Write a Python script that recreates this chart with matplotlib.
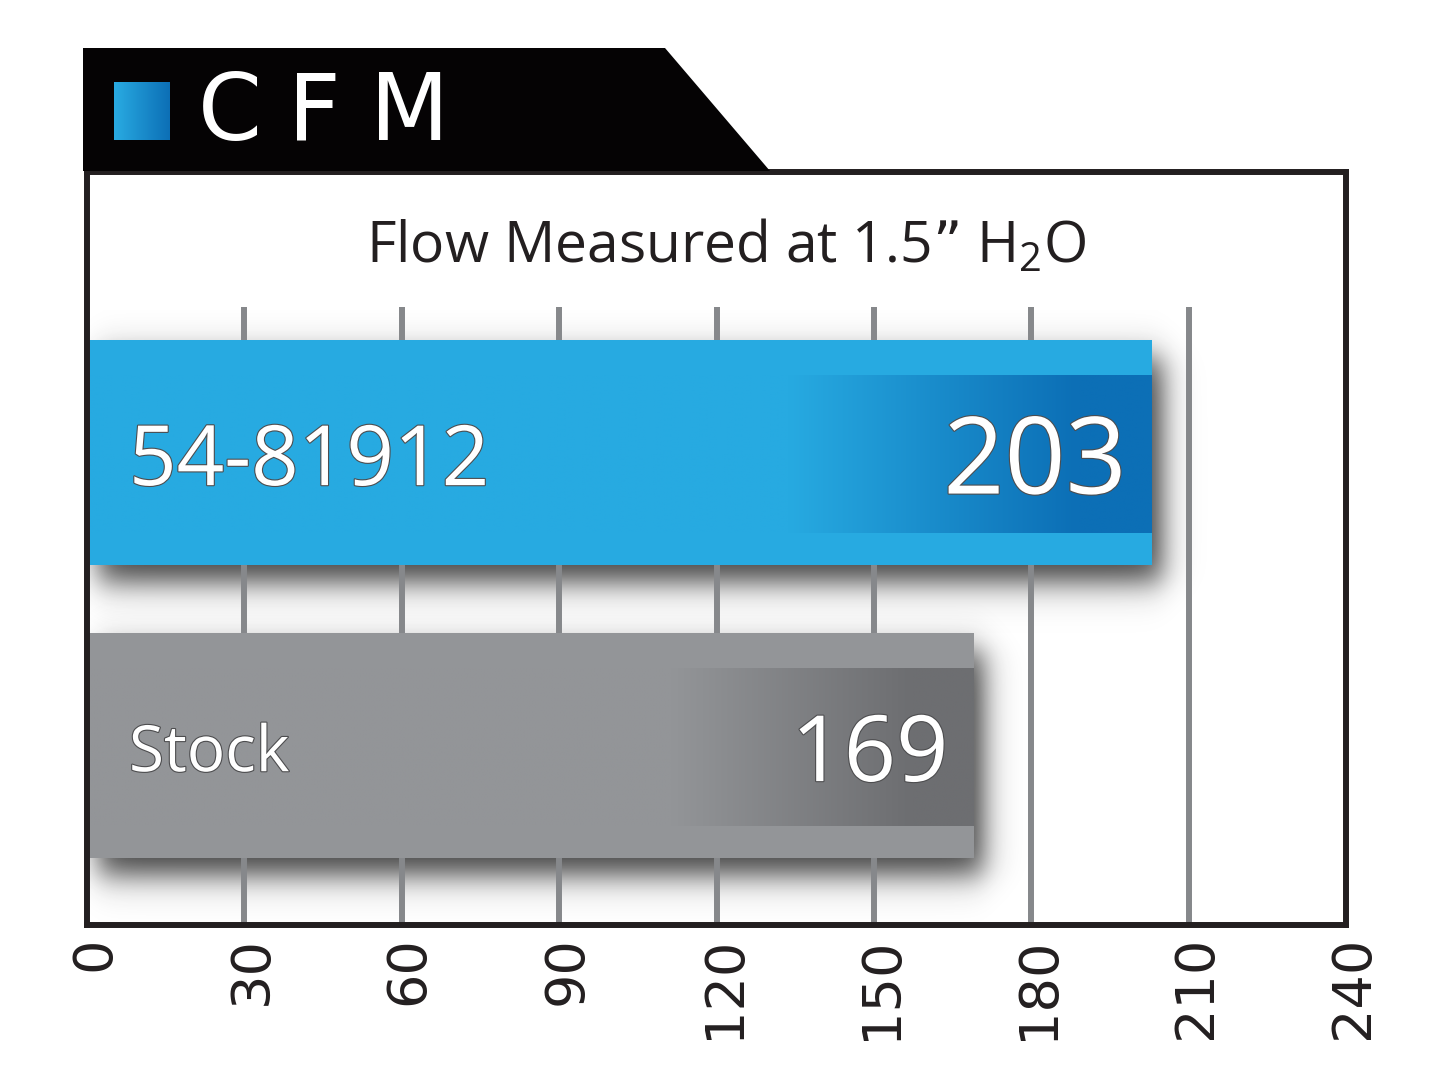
import numpy as np
import matplotlib
matplotlib.use('Agg')
import matplotlib.pyplot as plt
import matplotlib.patheffects as pe
import matplotlib.transforms as mtransforms
from matplotlib.patches import Polygon
from matplotlib.colors import to_rgb

# chart data
labels = ["54-81912", "Stock"]
values = [203, 169]
bar_colors = ["#27aae1", "#939598"]
band_colors = ["#0c6fb6", "#6d6e71"]
label_sizes = [60, 46]
value_sizes = [77, 66]
ticks = [0, 30, 60, 90, 120, 150, 180, 210, 240]
title = "Flow Measured at 1.5\u201d H$\\mathregular{_2}$O"
header = "CFM"

W, H = 1445, 1084
plt.rcParams['font.family'] = ['Open Sans', 'DejaVu Sans']

fig = plt.figure(figsize=(W / 100, H / 100), dpi=100)
fig.patch.set_facecolor("white")

# main plotting area, placed in pixel terms
ax_l, ax_r, ax_t, ax_b = 87, 1346, 172, 925
ax = fig.add_axes([ax_l / W, (H - ax_b) / H, (ax_r - ax_l) / W, (ax_b - ax_t) / H])
ax.set_facecolor("white")

ypos = [1, 0]
bar_h = 0.768
ylo, yhi = -0.613, 1.957
grid_top = 1.497
px_y = 293.0  # pixels per y unit

for y, v, c, bc in zip(ypos, values, bar_colors, band_colors):
    # drop shadow: soft dark box offset right/down
    x0, x1 = -10, v + 25
    y0, y1 = y - bar_h / 2 - 0.4, y + bar_h / 2 + 0.1
    nx, ny = 600, 220
    xs = np.linspace(x0, x1, nx)
    ys = np.linspace(y0, y1, ny)
    sx, sy = 3.2, 0.065
    dx, dy = 2.0, 0.06
    fx = 0.25 * (1 + np.tanh((xs - dx) / sx)) * (1 - np.tanh((xs - (v + dx)) / sx))
    fy = 0.25 * (1 + np.tanh((ys - (y - bar_h / 2 - dy)) / sy)) * \
        (1 - np.tanh((ys - (y + bar_h / 2 - dy)) / sy))
    img = np.zeros((ny, nx, 4))
    img[..., :3] = 0.12
    img[..., 3] = 0.85 * np.outer(fy[::-1], fx)
    ax.imshow(img, extent=(x0, x1, y0, y1), aspect='auto', zorder=1,
              interpolation='bilinear')

    # main bar
    ax.barh(y, v, height=bar_h, color=c, zorder=3)

    # inner gradient band towards the bar end
    band = 0.70 * bar_h
    g = np.linspace(0, 1, 300)
    ramp = np.clip((g - 0.66) / (0.93 - 0.66), 0, 1)
    c1, c2 = np.array(to_rgb(c)), np.array(to_rgb(bc))
    grad = (1 - ramp)[:, None] * c1 + ramp[:, None] * c2
    ax.imshow(grad[None, :, :], extent=(0, v, y - band / 2 - 0.006, y + band / 2 - 0.006),
              aspect='auto', zorder=4, interpolation='bilinear')

# vertical grid lines
ax.vlines(ticks[1:-1], ylo, grid_top, color="#86888b", linewidth=4.3, zorder=2)

outline = [pe.withStroke(linewidth=1.6, foreground="#4d4d4f")]
for y, v, lab, ls, vs in zip(ypos, values, labels, label_sizes, value_sizes):
    for txt, xx, fs, ha in [(lab, 8, ls, "left"), (str(v), v - 4.8, vs, "right")]:
        base = y - (0.357 * fs * 100 / 72 + 3) / px_y
        ax.text(xx, base, txt, color="white", fontsize=fs, ha=ha, va="baseline",
                zorder=6, path_effects=outline)

ax.set_xlim(0, 240)
ax.set_ylim(ylo, yhi)
ax.set_yticks([])
ax.set_xticks(ticks)
ax.set_xticklabels([str(t) for t in ticks], rotation=90, fontsize=39,
                   family=['DejaVu Sans'], color="#231f20")
ax.tick_params(axis="x", length=0, pad=8)
shift = mtransforms.ScaledTranslation(7 / 100, 0, fig.dpi_scale_trans)
for lbl in ax.get_xticklabels():
    lbl.set_transform(lbl.get_transform() + shift)
for s in ax.spines.values():
    s.set_linewidth(4.3)
    s.set_color("#231f20")
    s.set_zorder(7)

fig.text(726 / W, 1 - 262 / H, title, fontsize=41, ha="center",
         va="baseline", color="#231f20")

# black header tab with blue marker and title
hdr = fig.add_axes([0, 0, 1, 1], zorder=5)
hdr.axis("off")
hdr.patch.set_alpha(0)
hdr.add_patch(Polygon([(83, 48), (665, 48), (770, 171), (83, 171)], closed=True,
                      facecolor="#050304", edgecolor="none", zorder=1))
sq = np.linspace(0, 1, 100)
c1, c2 = np.array(to_rgb("#29abe2")), np.array(to_rgb("#0c6fb6"))
sq_img = (1 - sq)[:, None] * c1 + sq[:, None] * c2
hdr.imshow(sq_img[None, :, :], extent=(114, 170, 140, 82), aspect='auto',
           interpolation='bilinear', zorder=3)
for ch, xl in zip(header, [198, 288, 370]):
    hdr.text(xl, 140, ch, color="white", fontsize=66, ha="left", va="baseline",
             family=['DejaVu Sans'], zorder=4)
hdr.set_xlim(0, W)
hdr.set_ylim(H, 0)

fig.savefig("out.png", dpi=100, facecolor="white")
